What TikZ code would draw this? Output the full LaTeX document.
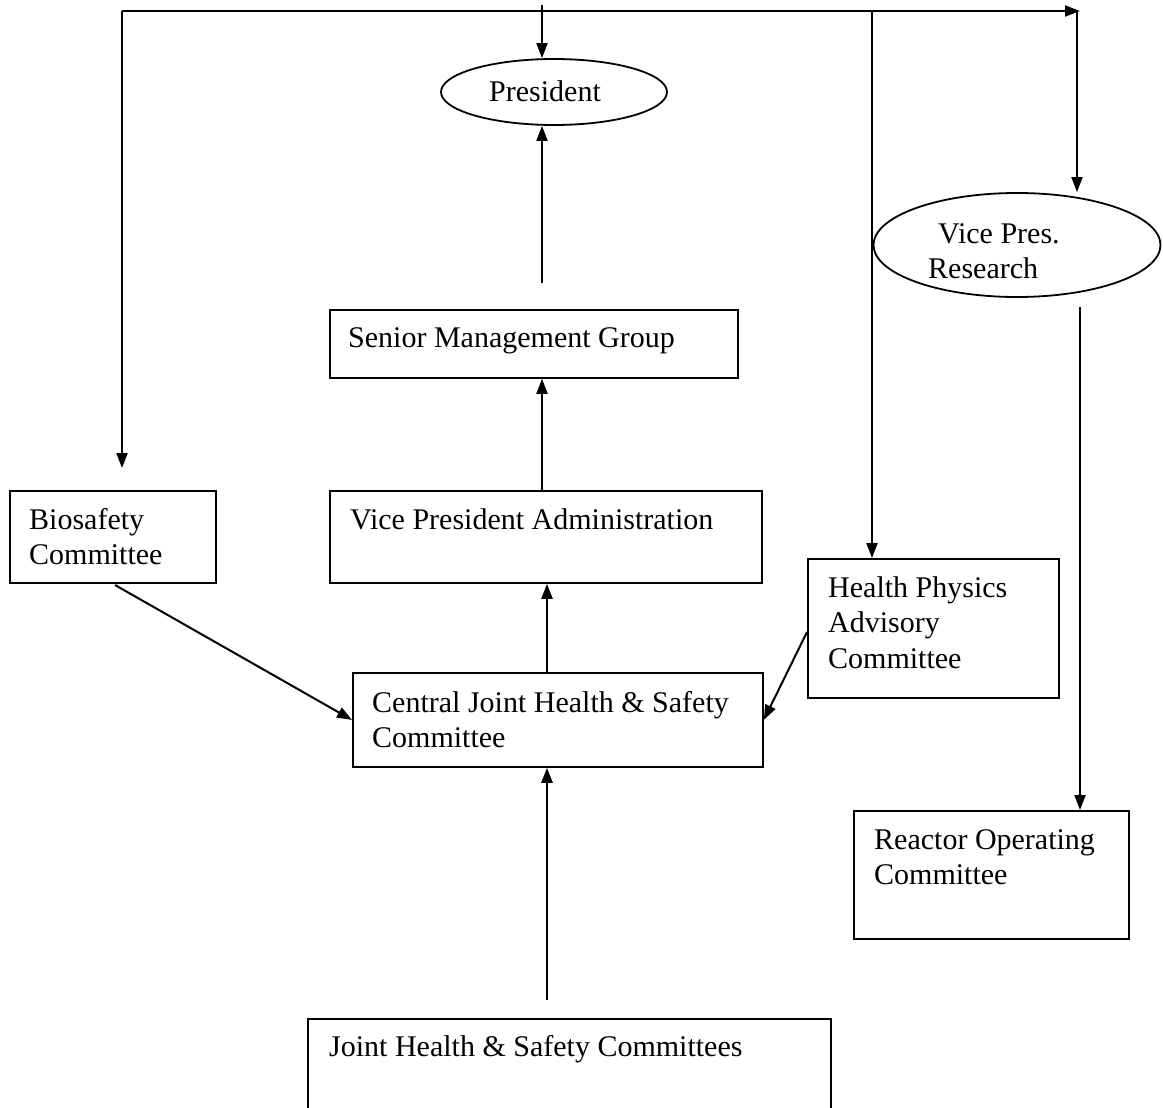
\documentclass[tikz,border=0pt]{standalone}
\usepackage{fontspec}
\setmainfont{Liberation Serif}
\usetikzlibrary{arrows.meta,shapes.geometric}
\newcommand{\mlines}[1]{\begin{tabular}[t]{@{}l@{}}#1\end{tabular}}
\begin{document}
\begin{tikzpicture}[x=1pt,y=-1pt,
  box/.style={draw,line width=1.8pt,rectangle,inner sep=0pt,anchor=north west},
  oval/.style={draw,line width=1.8pt,ellipse,inner sep=0pt},
  txt/.style={anchor=base west,inner sep=0pt,font=\fontsize{30}{35.5}\selectfont},
  conn/.style={line width=2pt,-{Triangle[length=15pt,width=11pt]}}]
\useasboundingbox (0,0) rectangle (1163,1108);
\clip (0,0) rectangle (1163,1108);
% nodes
\node[oval,minimum width=226pt,minimum height=66pt] (pres) at (554,92) {};
\node[txt] (prest) at (489,102) {President};
\node[oval,minimum width=287pt,minimum height=104pt] (vpr) at (1017,245) {};
\node[txt] (vprt1) at (938,243) {Vice Pres.};
\node[txt] (vprt2) at (928,278) {Research};
\node[box,minimum width=408pt,minimum height=68pt] (smg) at (329,309) {};
\node[txt] (smgt) at (348,347) {Senior Management Group};
\node[box,minimum width=432pt,minimum height=92pt] (vpa) at (329,490) {};
\node[txt] (vpat) at (350,529) {Vice President Administration};
\node[box,minimum width=206pt,minimum height=92pt] (bio) at (9,490) {};
\node[txt] (biot) at (29,529) {\mlines{Biosafety\\Committee}};
\node[box,minimum width=410pt,minimum height=94pt] (cj) at (352,672) {};
\node[txt] (cjt) at (372,712) {\mlines{Central Joint Health \& Safety\\Committee}};
\node[box,minimum width=251pt,minimum height=139pt] (hp) at (807,558) {};
\node[txt] (hpt) at (828,597) {\mlines{Health Physics\\Advisory\\Committee}};
\node[box,minimum width=275pt,minimum height=128pt] (roc) at (853,810) {};
\node[txt] (roct) at (874,849) {\mlines{Reactor Operating\\Committee}};
\node[box,minimum width=523pt,minimum height=140pt] (jh) at (307,1018) {};
\node[txt] (jht) at (329,1056) {Joint Health \& Safety Committees};
% top bus
\coordinate (tl) at (122,11);
\coordinate (tr) at (1080,11);
\coordinate (bioin) at (122,468);
\coordinate (presin) at (542,5);
\coordinate (hpbus) at (872,11);
\coordinate (vrbus) at (1077,11);
\coordinate (vrout) at (1080,307);
\draw[conn] (tl) -- (tr);
\draw[conn] (tl) -- (bioin);
\draw[conn] (presin) -- (presin |- pres.north);
\draw[conn] (hpbus) -- (hpbus |- hp.north);
\draw[conn] (vrbus) -- (vrbus |- vpr.north);
% vertical chain
\coordinate (a1) at (542,283);
\coordinate (a2) at (542,490);
\coordinate (a3) at (547,672);
\coordinate (a4) at (547,1000);
\draw[conn] (a1) -- (a1 |- pres.south);
\draw[conn] (a2) -- (a2 |- smg.south);
\draw[conn] (a3) -- (a3 |- vpa.south);
\draw[conn,line width=2.6pt] (a4) -- (a4 |- cj.south);
% diagonals
\coordinate (b1) at (115,585);
\coordinate (h1) at (807,632);
\draw[conn] (b1) -- (cj.west);
\draw[conn] (h1) -- (cj.east);
% VP research to reactor
\draw[conn] (vrout) -- (vrout |- roc.north);
\end{tikzpicture}
\end{document}
